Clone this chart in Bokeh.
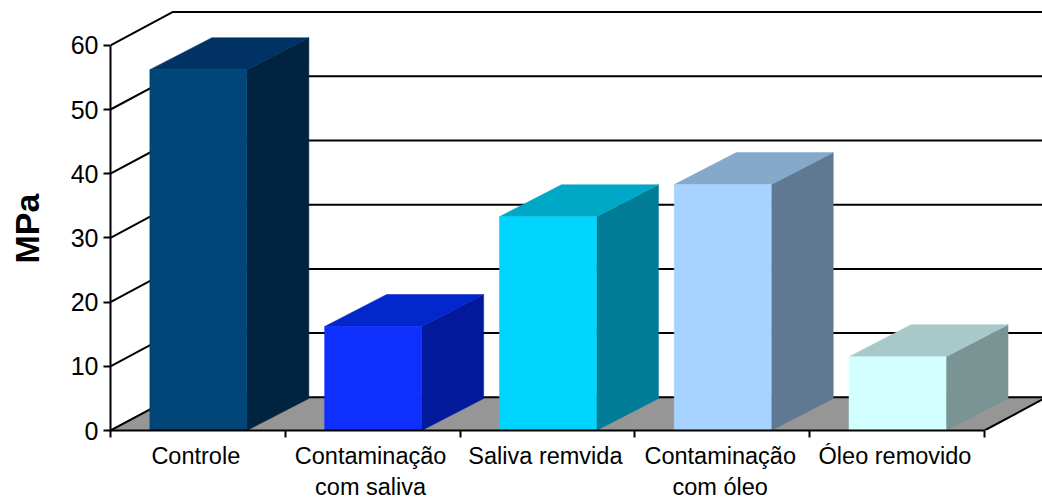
from bokeh.embed import file_html
from bokeh.resources import INLINE
from bokeh.plotting import figure
from bokeh.models import FixedTicker, Title, Range1d, ColumnDataSource

categories = ["Controle", "Contaminação\ncom saliva", "Saliva remvida", "Contaminação\ncom óleo", "Óleo removido"]
values = [56.2, 16.2, 33.3, 38.3, 11.5]
front_colors = ["#004678", "#0F2FFF", "#00D5FF", "#A6D3FF", "#D1FFFF"]
top_colors = ["#003264", "#0327CD", "#00A8C8", "#85A9CB", "#A7C9C9"]
side_colors = ["#00233F", "#02199B", "#007C96", "#5F7992", "#7A9493"]
y_ticks = [0, 10, 20, 30, 40, 50, 60]
y_title = "MPa"

PX_X = 174.8
PX_Y = 6.42
W, H = 1042, 503
LEFT, BOTTOM = 110, 73
DX = 62 / PX_X
DY_WALL = 33.2 / PX_Y
DY_BAR = 32 / PX_Y
BAR_L, BAR_R = 0.225, 0.78
LABEL_POS = 0.488
N = len(categories)

p = figure(
    width=W, height=H, output_backend="svg", toolbar_location=None, tools="",
    x_range=Range1d(0, (W - LEFT) / PX_X),
    y_range=Range1d(0, (H - BOTTOM) / PX_Y),
    min_border_left=LEFT, min_border_right=0, min_border_top=0, min_border_bottom=BOTTOM,
    background_fill_color="white", border_fill_color="white",
)
p.outline_line_color = None
p.grid.visible = False

xa = p.xaxis[0]
xa.ticker = FixedTicker(ticks=[i + LABEL_POS for i in range(N)], minor_ticks=list(range(N + 1)))
xa.major_label_overrides = {i + LABEL_POS: c for i, c in enumerate(categories)}
xa.bounds = (0, N)
xa.axis_line_color = "black"
xa.axis_line_width = 2
xa.major_tick_in = 0
xa.major_tick_out = 0
xa.minor_tick_in = 0
xa.minor_tick_out = 7
xa.minor_tick_line_color = "black"
xa.minor_tick_line_width = 2
xa.major_label_standoff = 5
xa.major_label_text_font = "Liberation Sans"
xa.major_label_text_font_size = "23.5px"
xa.major_label_text_color = "black"

ya = p.yaxis[0]
ya.ticker = FixedTicker(ticks=y_ticks, minor_ticks=[])
ya.bounds = (0, 60)
ya.axis_line_color = "black"
ya.axis_line_width = 2
ya.major_tick_in = 0
ya.major_tick_out = 7
ya.major_tick_line_color = "black"
ya.major_tick_line_width = 2
ya.major_label_standoff = 5
ya.major_label_text_font = "Liberation Sans"
ya.major_label_text_font_size = "25px"
ya.major_label_text_color = "black"
# blank axis label only widens the axis panel, pushing the title outward
ya.axis_label = " "
ya.axis_label_text_font_size = "1px"
ya.axis_label_standoff = 11

# floor
p.patch([0, DX, N + DX, N], [0, DY_WALL, DY_WALL, 0], fill_color="#969696",
        line_color=None)
# wall grid lines
wall_x, wall_y = [], []
for t in y_ticks:
    wall_x.append([0, DX, N + DX])
    wall_y.append([t, t + DY_WALL, t + DY_WALL])
p.multi_line(wall_x, wall_y, line_color="black", line_width=2)
p.line([N, N + DX], [0, DY_WALL], line_color="black", line_width=2)

lefts = [i + BAR_L for i in range(N)]
rights = [i + BAR_R for i in range(N)]
# bar sides
side = ColumnDataSource(dict(
    xs=[[r, r + DX, r + DX, r] for r in rights],
    ys=[[0, DY_BAR, v + DY_BAR, v] for v in values],
    c=side_colors))
p.patches("xs", "ys", source=side, fill_color="c", line_color="c", line_width=0.5)
# bar tops
top = ColumnDataSource(dict(
    xs=[[l, l + DX, r + DX, r] for l, r in zip(lefts, rights)],
    ys=[[v, v + DY_BAR, v + DY_BAR, v] for v in values],
    c=top_colors))
p.patches("xs", "ys", source=top, fill_color="c", line_color="c", line_width=0.5)
# bar fronts
p.quad(left=lefts, right=rights, top=values, bottom=0,
       fill_color=front_colors, line_color=front_colors, line_width=0.5)

p.add_layout(Title(text=y_title, align="left", offset=167, standoff=10, vertical_align="top",
                   text_font="Liberation Sans", text_font_size="34px", text_font_style="bold",
                   text_color="black"), "left")

open("out.html", "w").write(file_html(p, INLINE))
